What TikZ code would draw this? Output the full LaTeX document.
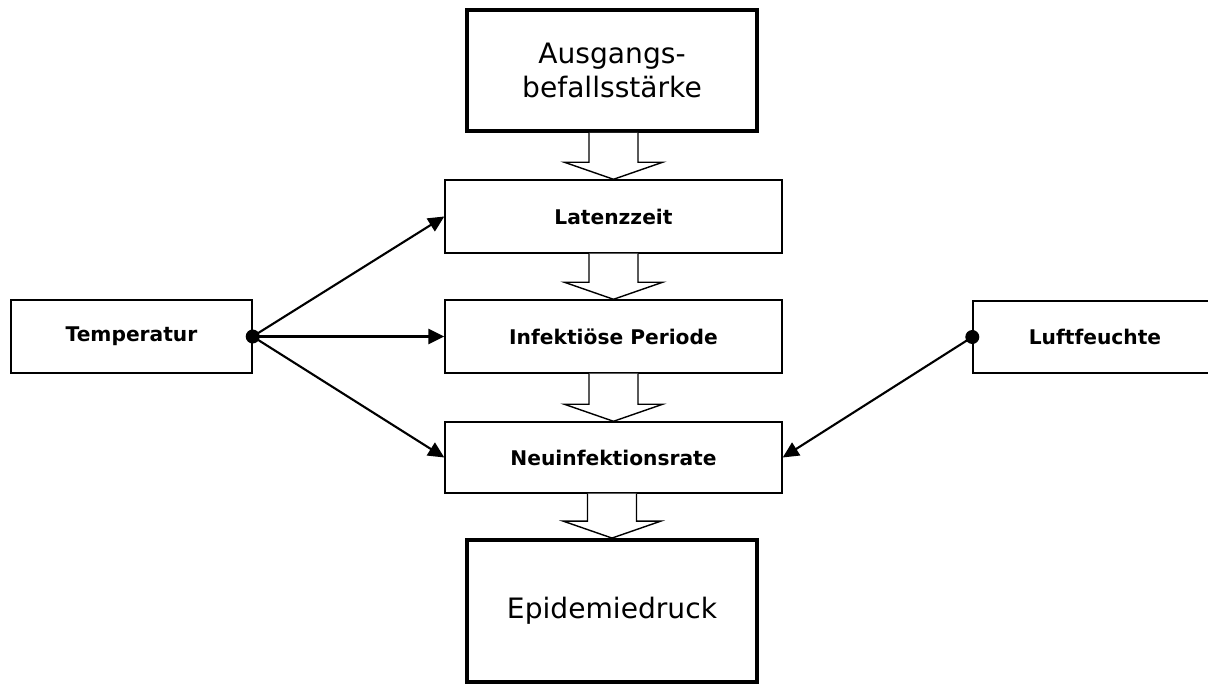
\documentclass[tikz,border=0pt]{standalone}
\usepackage{fontspec}
\setmainfont{DejaVu Sans}
\usetikzlibrary{calc,arrows.meta}

\newcommand{\hollowarrow}[2]{%
  \draw[hollow] ($(#1.south -| #2.north)+(-0.49,0)$) -- ($(#2.north)+(-0.49,0.34)$)
    -- ($(#2.north)+(-0.98,0.34)$) -- (#2.north) -- ($(#2.north)+(0.98,0.34)$)
    -- ($(#2.north)+(0.49,0.34)$) -- ($(#1.south -| #2.north)+(0.49,0)$);}

\begin{document}
\begin{tikzpicture}[
    box/.style={rectangle, draw, line width=0.8pt, minimum width=6.74cm, minimum height=1.46cm, font=\fontsize{11.5}{13}\selectfont\bfseries},
    bigbox/.style={rectangle, draw, line width=2.2pt, minimum width=5.8cm, align=center, font=\fontsize{16}{19.5}\selectfont},
    hollow/.style={draw, line width=0.8pt, fill=white},
    infl/.style={-{Triangle[length=0.32cm, width=0.3cm]}, line width=1.2pt},
    dot/.style={circle, fill, inner sep=0pt, minimum size=0.28cm}
]
    \useasboundingbox (0,0) rectangle (24.16,13.68);

    % main chain
    \node[bigbox, minimum height=2.42cm] (aus) at (12.24, 12.27) {Ausgangs-\\befallsstärke};
    \node[box] (lat) at (12.27, 9.35) {Latenzzeit};
    \node[box] (inf) at (12.27, 6.95) {Infektiöse Periode};
    \node[box, minimum height=1.42cm] (neu) at (12.27, 4.53) {Neuinfektionsrate};
    \node[bigbox, minimum height=2.84cm] (epi) at (12.24, 1.46) {Epidemiedruck};

    \hollowarrow{aus}{lat}
    \hollowarrow{lat}{inf}
    \hollowarrow{inf}{neu}
    \hollowarrow{neu}{epi}

    % weather factors
    \node[box, minimum width=4.82cm] (temp) at (2.63, 6.95) {Temperatur};
    \node[box, minimum width=4.88cm, minimum height=1.44cm] (luft) at (21.9, 6.94) {Luftfeuchte};

    \draw[infl] (temp.east) -- (lat.west);
    \draw[infl, line width=1.5pt] (temp.east) -- (inf.west);
    \draw[infl] (temp.east) -- (neu.west);
    \draw[infl] (luft.west) -- (neu.east);
    \node[dot] at (temp.east) {};
    \node[dot] at (luft.west) {};
\end{tikzpicture}
\end{document}
